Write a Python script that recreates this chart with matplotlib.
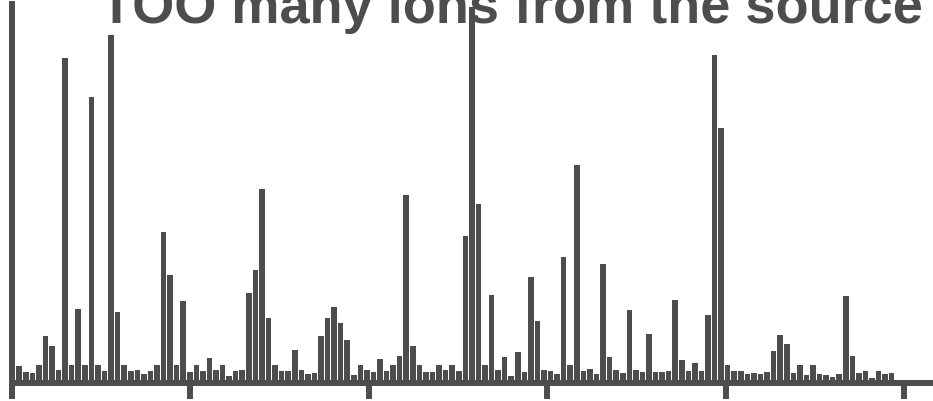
import matplotlib
matplotlib.use("Agg")
import matplotlib.pyplot as plt
import numpy as np

# ion counts per bin, left to right
counts = [17, 11, 10, 18, 47, 37, 13, 325, 18, 74,
          18, 286, 18, 12, 348, 71, 18, 12, 13, 9,
          12, 18, 151, 108, 18, 82, 11, 18, 12, 25,
          13, 18, 7, 12, 13, 90, 113, 194, 65, 18,
          12, 12, 33, 13, 9, 10, 47, 65, 76, 60,
          43, 8, 18, 13, 11, 24, 12, 18, 27, 188,
          37, 18, 11, 11, 18, 13, 18, 12, 147, 376,
          179, 18, 88, 13, 26, 7, 31, 11, 106, 62,
          13, 12, 9, 126, 18, 218, 12, 14, 9, 119,
          26, 13, 10, 73, 13, 11, 49, 11, 11, 12,
          83, 23, 12, 20, 12, 68, 328, 255, 18, 12,
          12, 9, 10, 9, 11, 32, 48, 39, 10, 18,
          8, 18, 9, 8, 6, 9, 87, 27, 10, 12,
          5, 12, 9, 10]
title = "TOO many ions from the source"

tick_step = 27.2
x_start = -1.1
grey = "#4d4d4d"

bins = np.arange(len(counts))

fig = plt.figure(figsize=(9.33, 4.02), dpi=100)
ax = fig.add_axes([12 / 933, 18 / 402, 921 / 933, 379 / 402])

ax.bar(bins, counts, width=0.85, color=grey, linewidth=0)

ax.set_xlim(x_start, x_start + 921 / 6.56)
ax.set_ylim(0, 379)
ax.set_xticks(x_start + tick_step * np.arange(6))
ax.set_xticklabels([])
ax.set_yticks([])

for side in ["top", "right"]:
    ax.spines[side].set_visible(False)
for side in ["left", "bottom"]:
    ax.spines[side].set_linewidth(4.3)
    ax.spines[side].set_color(grey)
ax.tick_params(axis="x", length=11.5, width=4.3, color=grey)

# headline runs off the top edge
fig.text(100 / 933, 1 - 23 / 402, title, fontsize=39, fontweight="bold",
         family="Liberation Sans", color=grey, ha="left", va="baseline")

fig.savefig("out.png", dpi=100)
